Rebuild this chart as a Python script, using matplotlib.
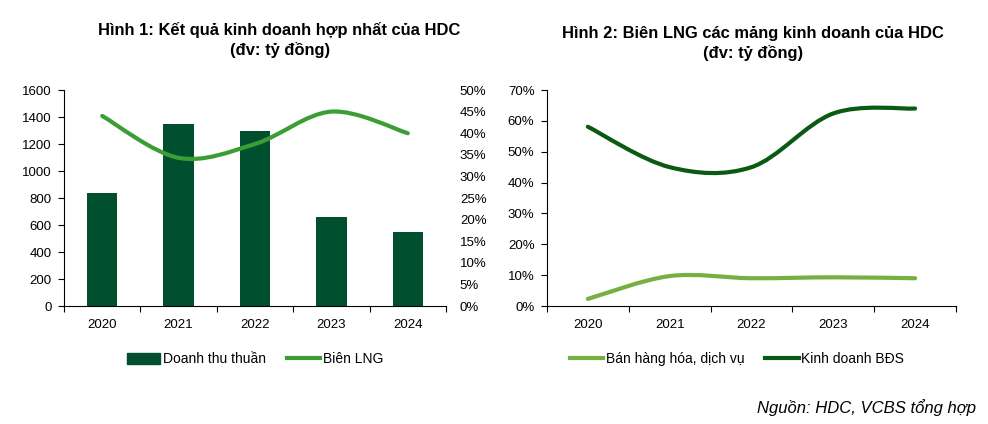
import matplotlib
matplotlib.use("Agg")
import matplotlib.pyplot as plt
from matplotlib.path import Path
from matplotlib.patches import PathPatch
from matplotlib.lines import Line2D
from matplotlib.patches import Patch
from matplotlib.ticker import FuncFormatter

plt.rcParams["font.family"] = ["Liberation Sans", "DejaVu Sans"]

years = ["2020", "2021", "2022", "2023", "2024"]
revenue = [840, 1350, 1295, 660, 545]            # Doanh thu thuần (tỷ đồng)
net_margin = [44.0, 34.3, 37.5, 45.0, 40.0]       # Biên LNG (%)
margin_goods = [2.3, 9.7, 9.0, 9.3, 9.0]          # Bán hàng hóa, dịch vụ (%)
margin_realestate = [58.1, 45.0, 45.0, 62.4, 64.0]  # Kinh doanh BĐS (%)

BAR_COLOR = "#00502F"
LINE_LIGHT = "#3A9E34"
GOODS_COLOR = "#76B043"
BDS_COLOR = "#0A5A12"


def smooth_path(xs, ys):
    # Excel-style smoothed line: cubic Bezier through every point
    pts = list(zip(xs, ys))
    n = len(pts)
    verts = [pts[0]]
    codes = [Path.MOVETO]
    for i in range(n - 1):
        p0 = pts[max(i - 1, 0)]
        p1 = pts[i]
        p2 = pts[i + 1]
        p3 = pts[min(i + 2, n - 1)]
        c1 = (p1[0] + (p2[0] - p0[0]) / 6, p1[1] + (p2[1] - p0[1]) / 6)
        c2 = (p2[0] - (p3[0] - p1[0]) / 6, p2[1] - (p3[1] - p1[1]) / 6)
        verts += [c1, c2, p2]
        codes += [Path.CURVE4] * 3
    return Path(verts, codes)


def add_smooth_line(ax, ys, color):
    xs = list(range(len(ys)))
    patch = PathPatch(smooth_path(xs, ys), facecolor="none", edgecolor=color,
                      lw=3.0, capstyle="round", zorder=3)
    ax.add_patch(patch)


def style_category_axis(ax):
    ax.set_xlim(-0.5, len(years) - 0.5)
    ax.set_xticks([i - 0.5 for i in range(len(years) + 1)])
    ax.set_xticklabels([])
    ax.set_xticks(range(len(years)), minor=True)
    ax.set_xticklabels(years, minor=True, fontsize=9.5)
    ax.tick_params(axis="x", which="major", length=4, direction="out", width=0.8)
    ax.tick_params(axis="x", which="minor", length=0, pad=9)
    ax.tick_params(axis="y", length=4, direction="out", width=0.8, labelsize=9.5, pad=5)
    for s in ["top", "right"]:
        ax.spines[s].set_visible(False)
    ax.spines["left"].set_color("black")
    ax.spines["bottom"].set_color("black")


fig = plt.figure(figsize=(9.88, 4.24), dpi=100)

# ---- Hình 1 ----
ax1 = fig.add_axes([0.0648, 0.2783, 0.3866, 0.5094])
ax1.bar(range(len(years)), revenue, width=0.4, color=BAR_COLOR, zorder=2)
ax1.set_ylim(0, 1600)
ax1.set_yticks(range(0, 1601, 200))
style_category_axis(ax1)

ax1r = ax1.twinx()
ax1r.set_ylim(0, 50)
ax1r.set_yticks(range(0, 51, 5))
ax1r.yaxis.set_major_formatter(FuncFormatter(lambda v, p: f"{v:.0f}%"))
ax1r.tick_params(axis="y", length=0, labelsize=9.5, pad=10)
for s in ["top", "right", "left", "bottom"]:
    ax1r.spines[s].set_visible(False)
ax1r.set_xlim(-0.5, len(years) - 0.5)
add_smooth_line(ax1r, net_margin, LINE_LIGHT)

fig.text(0.283, 0.929, "Hình 1: Kết quả kinh doanh hợp nhất của HDC",
         ha="center", va="center", fontsize=11.9, fontweight="bold")
fig.text(0.283, 0.882, "(đv: tỷ đồng)", ha="center", va="center",
         fontsize=11.9, fontweight="bold")

fig.legend(handles=[Patch(color=BAR_COLOR, label="Doanh thu thuần"),
                    Line2D([], [], color=LINE_LIGHT, lw=3, label="Biên LNG")],
           loc="center", bbox_to_anchor=(0.258, 0.153), ncol=2, frameon=False,
           fontsize=10, handlelength=2.4, handleheight=0.9, handletextpad=0.2,
           columnspacing=1.5)

# ---- Hình 2 ----
ax2 = fig.add_axes([0.5536, 0.2783, 0.4140, 0.5094])
ax2.set_ylim(0, 70)
ax2.set_yticks(range(0, 71, 10))
ax2.yaxis.set_major_formatter(FuncFormatter(lambda v, p: f"{v:.0f}%"))
style_category_axis(ax2)
add_smooth_line(ax2, margin_goods, GOODS_COLOR)
add_smooth_line(ax2, margin_realestate, BDS_COLOR)

fig.text(0.762, 0.922, "Hình 2: Biên LNG các mảng kinh doanh của HDC",
         ha="center", va="center", fontsize=11.9, fontweight="bold")
fig.text(0.762, 0.875, "(đv: tỷ đồng)", ha="center", va="center",
         fontsize=11.9, fontweight="bold")

fig.legend(handles=[Line2D([], [], color=GOODS_COLOR, lw=3, label="Bán hàng hóa, dịch vụ"),
                    Line2D([], [], color=BDS_COLOR, lw=3, label="Kinh doanh BĐS")],
           loc="center", bbox_to_anchor=(0.746, 0.153), ncol=2, frameon=False,
           fontsize=10, handlelength=2.4, handletextpad=0.2, columnspacing=1.5)

fig.text(0.988, 0.040, "Nguồn: HDC, VCBS tổng hợp", ha="right", va="center",
         fontsize=12, style="italic")

fig.savefig("out.png", dpi=100)
